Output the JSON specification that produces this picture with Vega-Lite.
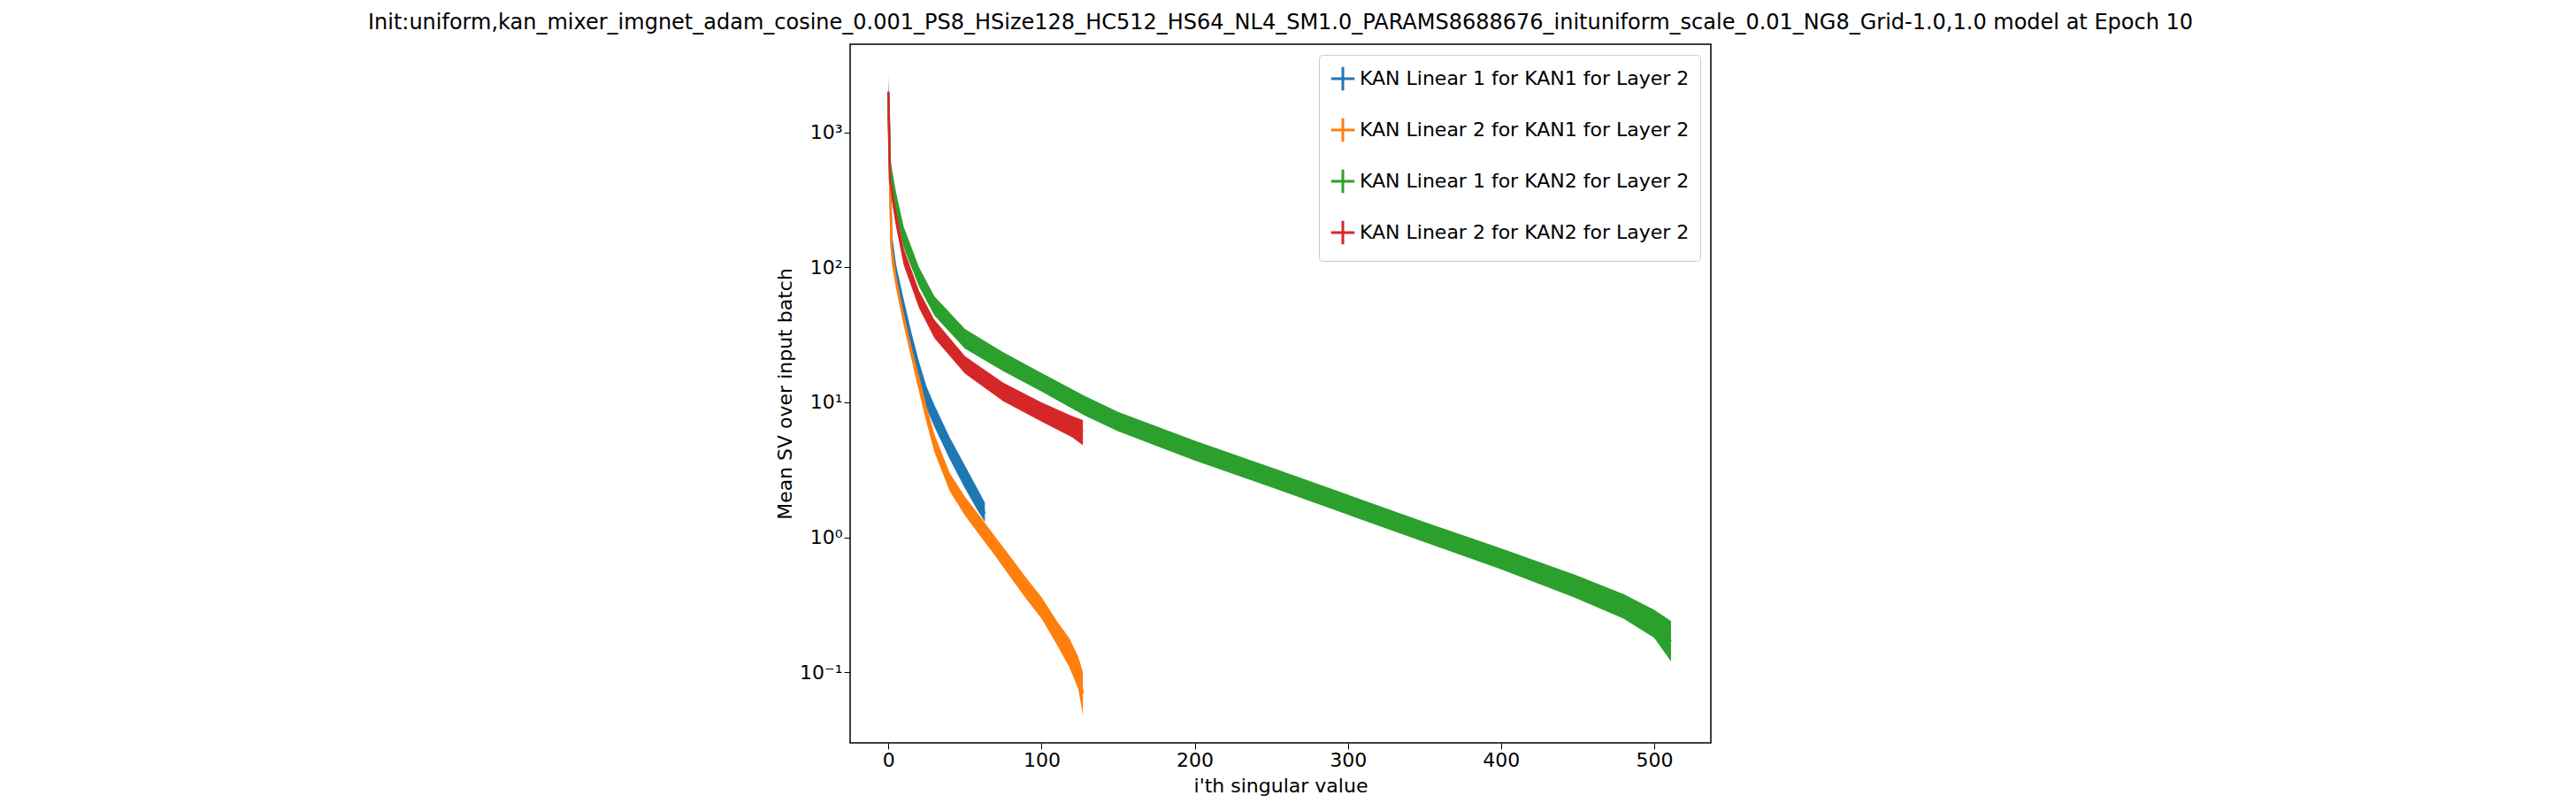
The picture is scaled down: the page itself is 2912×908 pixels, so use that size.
{
  "$schema": "https://vega.github.io/schema/vega-lite/v6.json",
  "autosize": "none",
  "padding": {"left": 961, "top": 50, "right": 978, "bottom": 68},
  "width": 973,
  "height": 790,
  "background": "white",
  "title": {"text": "Init:uniform,kan_mixer_imgnet_adam_cosine_0.001_PS8_HSize128_HC512_HS64_NL4_SM1.0_PARAMS8688676_inituniform_scale_0.01_NG8_Grid-1.0,1.0 model at Epoch 10", "fontSize": 24, "font": "DejaVu Sans", "fontWeight": "normal", "anchor": "middle", "offset": 12, "limit": 2900},
  "config": {"view": {"stroke": "black", "strokeWidth": 1.5}, "font": "DejaVu Sans"},
  "data": {"values": [
    {"s": "KAN Linear 1 for KAN1 for Layer 2", "i": 0, "m": 2000, "lo": 1400, "hi": 2700},
    {"s": "KAN Linear 1 for KAN1 for Layer 2", "i": 2, "m": 150, "lo": 120, "hi": 190},
    {"s": "KAN Linear 1 for KAN1 for Layer 2", "i": 5, "m": 90, "lo": 78, "hi": 105},
    {"s": "KAN Linear 1 for KAN1 for Layer 2", "i": 10, "m": 50, "lo": 43, "hi": 58},
    {"s": "KAN Linear 1 for KAN1 for Layer 2", "i": 15, "m": 28, "lo": 24, "hi": 33},
    {"s": "KAN Linear 1 for KAN1 for Layer 2", "i": 20, "m": 17, "lo": 14, "hi": 20},
    {"s": "KAN Linear 1 for KAN1 for Layer 2", "i": 25, "m": 11, "lo": 9, "hi": 13},
    {"s": "KAN Linear 1 for KAN1 for Layer 2", "i": 30, "m": 8, "lo": 6.6, "hi": 9.6},
    {"s": "KAN Linear 1 for KAN1 for Layer 2", "i": 40, "m": 4.6, "lo": 3.8, "hi": 5.5},
    {"s": "KAN Linear 1 for KAN1 for Layer 2", "i": 50, "m": 2.8, "lo": 2.3, "hi": 3.4},
    {"s": "KAN Linear 1 for KAN1 for Layer 2", "i": 58, "m": 1.9, "lo": 1.6, "hi": 2.3},
    {"s": "KAN Linear 1 for KAN1 for Layer 2", "i": 63, "m": 1.5, "lo": 1.3, "hi": 1.8},
    {"s": "KAN Linear 2 for KAN1 for Layer 2", "i": 0, "m": 1500, "lo": 1100, "hi": 1900},
    {"s": "KAN Linear 2 for KAN1 for Layer 2", "i": 2, "m": 140, "lo": 110, "hi": 170},
    {"s": "KAN Linear 2 for KAN1 for Layer 2", "i": 5, "m": 80, "lo": 70, "hi": 92},
    {"s": "KAN Linear 2 for KAN1 for Layer 2", "i": 10, "m": 42, "lo": 37, "hi": 48},
    {"s": "KAN Linear 2 for KAN1 for Layer 2", "i": 15, "m": 24, "lo": 21, "hi": 28},
    {"s": "KAN Linear 2 for KAN1 for Layer 2", "i": 20, "m": 14, "lo": 12, "hi": 16},
    {"s": "KAN Linear 2 for KAN1 for Layer 2", "i": 25, "m": 8, "lo": 7, "hi": 9.3},
    {"s": "KAN Linear 2 for KAN1 for Layer 2", "i": 30, "m": 5, "lo": 4.3, "hi": 5.8},
    {"s": "KAN Linear 2 for KAN1 for Layer 2", "i": 40, "m": 2.6, "lo": 2.2, "hi": 3},
    {"s": "KAN Linear 2 for KAN1 for Layer 2", "i": 50, "m": 1.7, "lo": 1.45, "hi": 2},
    {"s": "KAN Linear 2 for KAN1 for Layer 2", "i": 60, "m": 1.2, "lo": 1.02, "hi": 1.42},
    {"s": "KAN Linear 2 for KAN1 for Layer 2", "i": 70, "m": 0.85, "lo": 0.72, "hi": 1},
    {"s": "KAN Linear 2 for KAN1 for Layer 2", "i": 80, "m": 0.6, "lo": 0.5, "hi": 0.71},
    {"s": "KAN Linear 2 for KAN1 for Layer 2", "i": 90, "m": 0.42, "lo": 0.35, "hi": 0.5},
    {"s": "KAN Linear 2 for KAN1 for Layer 2", "i": 100, "m": 0.3, "lo": 0.25, "hi": 0.36},
    {"s": "KAN Linear 2 for KAN1 for Layer 2", "i": 110, "m": 0.2, "lo": 0.16, "hi": 0.24},
    {"s": "KAN Linear 2 for KAN1 for Layer 2", "i": 118, "m": 0.14, "lo": 0.11, "hi": 0.18},
    {"s": "KAN Linear 2 for KAN1 for Layer 2", "i": 124, "m": 0.1, "lo": 0.075, "hi": 0.13},
    {"s": "KAN Linear 2 for KAN1 for Layer 2", "i": 127, "m": 0.07, "lo": 0.048, "hi": 0.1},
    {"s": "KAN Linear 1 for KAN2 for Layer 2", "i": 0, "m": 1800, "lo": 1300, "hi": 2300},
    {"s": "KAN Linear 1 for KAN2 for Layer 2", "i": 1, "m": 550, "lo": 450, "hi": 650},
    {"s": "KAN Linear 1 for KAN2 for Layer 2", "i": 5, "m": 300, "lo": 250, "hi": 360},
    {"s": "KAN Linear 1 for KAN2 for Layer 2", "i": 10, "m": 170, "lo": 140, "hi": 200},
    {"s": "KAN Linear 1 for KAN2 for Layer 2", "i": 20, "m": 85, "lo": 72, "hi": 100},
    {"s": "KAN Linear 1 for KAN2 for Layer 2", "i": 30, "m": 52, "lo": 44, "hi": 61},
    {"s": "KAN Linear 1 for KAN2 for Layer 2", "i": 50, "m": 30, "lo": 25, "hi": 35},
    {"s": "KAN Linear 1 for KAN2 for Layer 2", "i": 75, "m": 20, "lo": 17, "hi": 23.5},
    {"s": "KAN Linear 1 for KAN2 for Layer 2", "i": 100, "m": 14, "lo": 12, "hi": 16.5},
    {"s": "KAN Linear 1 for KAN2 for Layer 2", "i": 128, "m": 9.5, "lo": 8, "hi": 11.2},
    {"s": "KAN Linear 1 for KAN2 for Layer 2", "i": 150, "m": 7.2, "lo": 6.1, "hi": 8.5},
    {"s": "KAN Linear 1 for KAN2 for Layer 2", "i": 200, "m": 4.4, "lo": 3.7, "hi": 5.2},
    {"s": "KAN Linear 1 for KAN2 for Layer 2", "i": 250, "m": 2.8, "lo": 2.35, "hi": 3.3},
    {"s": "KAN Linear 1 for KAN2 for Layer 2", "i": 300, "m": 1.75, "lo": 1.47, "hi": 2.07},
    {"s": "KAN Linear 1 for KAN2 for Layer 2", "i": 350, "m": 1.1, "lo": 0.92, "hi": 1.3},
    {"s": "KAN Linear 1 for KAN2 for Layer 2", "i": 400, "m": 0.7, "lo": 0.58, "hi": 0.83},
    {"s": "KAN Linear 1 for KAN2 for Layer 2", "i": 450, "m": 0.43, "lo": 0.35, "hi": 0.52},
    {"s": "KAN Linear 1 for KAN2 for Layer 2", "i": 480, "m": 0.31, "lo": 0.25, "hi": 0.38},
    {"s": "KAN Linear 1 for KAN2 for Layer 2", "i": 500, "m": 0.23, "lo": 0.18, "hi": 0.29},
    {"s": "KAN Linear 1 for KAN2 for Layer 2", "i": 511, "m": 0.17, "lo": 0.12, "hi": 0.24},
    {"s": "KAN Linear 2 for KAN2 for Layer 2", "i": 0, "m": 2000, "lo": 1500, "hi": 2300},
    {"s": "KAN Linear 2 for KAN2 for Layer 2", "i": 1, "m": 450, "lo": 380, "hi": 520},
    {"s": "KAN Linear 2 for KAN2 for Layer 2", "i": 5, "m": 230, "lo": 200, "hi": 265},
    {"s": "KAN Linear 2 for KAN2 for Layer 2", "i": 10, "m": 120, "lo": 104, "hi": 138},
    {"s": "KAN Linear 2 for KAN2 for Layer 2", "i": 20, "m": 58, "lo": 50, "hi": 67},
    {"s": "KAN Linear 2 for KAN2 for Layer 2", "i": 30, "m": 35, "lo": 30, "hi": 41},
    {"s": "KAN Linear 2 for KAN2 for Layer 2", "i": 50, "m": 19, "lo": 16.3, "hi": 22},
    {"s": "KAN Linear 2 for KAN2 for Layer 2", "i": 75, "m": 12, "lo": 10.2, "hi": 14},
    {"s": "KAN Linear 2 for KAN2 for Layer 2", "i": 100, "m": 8.5, "lo": 7.2, "hi": 10},
    {"s": "KAN Linear 2 for KAN2 for Layer 2", "i": 120, "m": 6.6, "lo": 5.5, "hi": 7.9},
    {"s": "KAN Linear 2 for KAN2 for Layer 2", "i": 127, "m": 6, "lo": 4.8, "hi": 7.4}
  ]},
  "encoding": {
    "x": {"field": "i", "type": "quantitative", "title": "i'th singular value",
      "scale": {"domain": [-25, 537], "nice": false, "zero": false},
      "axis": {"values": [0, 100, 200, 300, 400, 500], "grid": false, "domain": false, "labelFontSize": 22, "titleFontSize": 22, "titleFontWeight": "normal", "labelColor": "black", "titleColor": "black", "tickColor": "black", "tickSize": 7, "titlePadding": 8}},
    "color": {"field": "s", "type": "nominal", "title": null,
      "scale": {"domain": ["KAN Linear 1 for KAN1 for Layer 2", "KAN Linear 2 for KAN1 for Layer 2", "KAN Linear 1 for KAN2 for Layer 2", "KAN Linear 2 for KAN2 for Layer 2"], "range": ["#1f77b4", "#ff7f0e", "#2ca02c", "#d62728"]},
      "legend": {"orient": "top-right", "offset": 12, "labelFontSize": 22, "labelLimit": 0, "symbolType": "M-1,0H1M0,-1V1", "symbolStrokeWidth": 3, "symbolSize": 700, "strokeColor": "#cccccc", "fillColor": "white", "padding": 12, "cornerRadius": 4, "rowPadding": 18, "labelColor": "black"}}
  },
  "layer": [
    {"mark": {"type": "area", "opacity": 1},
     "encoding": {
       "y": {"field": "lo", "type": "quantitative", "title": "Mean SV over input batch",
         "scale": {"type": "log", "domain": [0.03, 4500], "nice": false},
         "axis": {"values": [0.1, 1, 10, 100, 1000], "labelExpr": "datum.value == 0.1 ? '10⁻¹' : datum.value == 1 ? '10⁰' : datum.value == 10 ? '10¹' : datum.value == 100 ? '10²' : '10³'", "grid": false, "domain": false, "labelFontSize": 22, "titleFontSize": 22, "titleFontWeight": "normal", "labelColor": "black", "titleColor": "black", "tickColor": "black", "tickSize": 7}},
       "y2": {"field": "hi"}
     }},
    {"mark": {"type": "line", "strokeWidth": 2.5}, "encoding": {"y": {"field": "m", "type": "quantitative"}}}
  ]
}
